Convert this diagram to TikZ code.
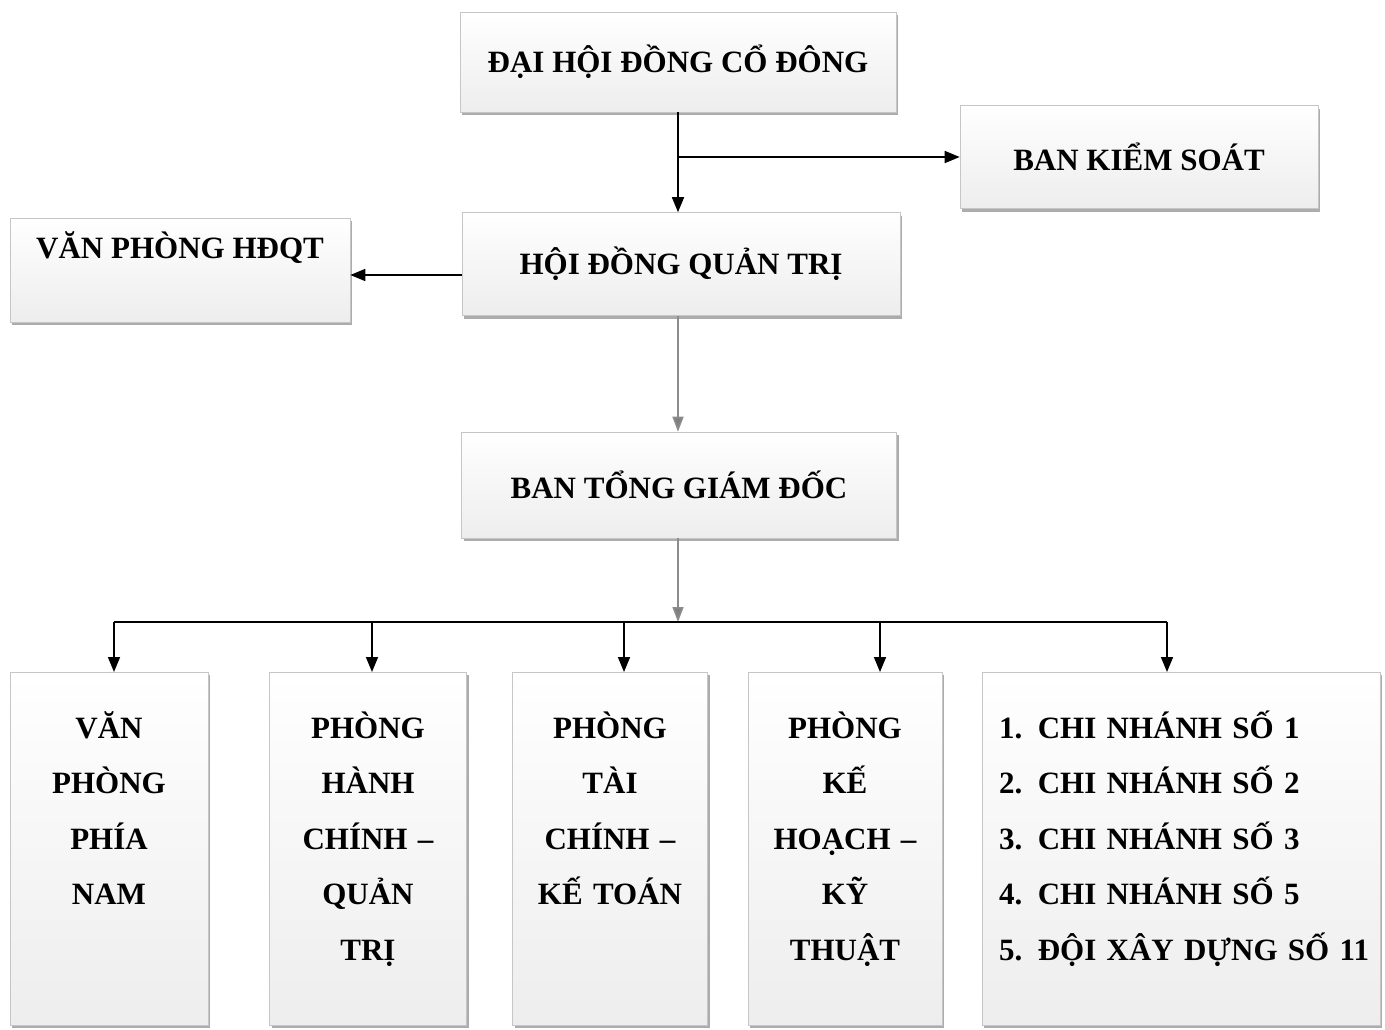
\documentclass[tikz,border=0pt]{standalone}
\usepackage{fontspec}
\setmainfont{Liberation Serif}
\usetikzlibrary{arrows.meta,shadows}
\begin{document}
\begin{tikzpicture}[x=1pt,y=-1pt,line join=round,
  font=\bfseries\fontsize{31}{55.5}\selectfont,
  box/.style={draw=gray!45,line width=.6pt,top color=white,bottom color=gray!14,
    general shadow={fill=gray!65,shadow xshift=2pt,shadow yshift=-3pt},
    inner sep=0pt},
  topbox/.style={box,anchor=north,align=center,text height=40pt,text depth=64pt},
  lowbox/.style={box,anchor=north,align=center,text height=66pt,text depth=287pt},
  arrow/.style={line width=1.6pt,-{Triangle[length=15pt,width=12pt]}},
  garrow/.style={arrow,draw=gray!90,-{Triangle[length=15pt,width=11pt,fill=gray]}}]
\useasboundingbox (0,0) rectangle (1385,1029);
% cap tren
\node[box,minimum width=436,minimum height=100] (dhdcd) at (678,62) {ĐẠI HỘI ĐỒNG CỔ ĐÔNG};
\node[box,minimum width=358,minimum height=103] (bks) at (1139,157) {BAN KIỂM SOÁT};
\node[topbox,minimum width=340] (vphdqt) at (180,218) {VĂN PHÒNG HĐQT};
\node[box,minimum width=438,minimum height=103] (hdqt) at (681,264) {HỘI ĐỒNG QUẢN TRỊ};
\node[box,minimum width=435,minimum height=106] (btgd) at (679,485) {BAN TỔNG GIÁM ĐỐC};
% cac phong ban
\node[lowbox,minimum width=198,text width=190] (vpnam) at (109,672) {VĂN\\PHÒNG\\PHÍA\\NAM};
\node[lowbox,minimum width=197,text width=189] (hcqt) at (368,672) {PHÒNG\\HÀNH\\CHÍNH –\\QUẢN\\TRỊ};
\node[lowbox,minimum width=195,text width=187] (tckt) at (610,672) {PHÒNG\\TÀI\\CHÍNH –\\KẾ TOÁN};
\node[lowbox,minimum width=194,text width=186] (khkt) at (845,672) {PHÒNG\\KẾ\\HOẠCH –\\KỸ\\THUẬT};
\node[lowbox,align=left,minimum width=398,text width=364] (cn) at (1181,672)
  {1.\enspace CHI NHÁNH SỐ~1\\2.\enspace CHI NHÁNH SỐ~2\\3.\enspace CHI NHÁNH SỐ~3\\4.\enspace CHI NHÁNH SỐ~5\\5.\enspace\mbox{ĐỘI XÂY DỰNG SỐ 11}};
\coordinate (bar) at (678,622);
% mui ten
\draw[arrow] (dhdcd) -- (dhdcd.south |- hdqt.north);
\draw[arrow] (dhdcd.south |- bks.west) -- (bks.west);
\draw[arrow] ([yshift=-11pt]hdqt.west) -- ([yshift=-11pt]hdqt.west -| vphdqt.east);
\draw[garrow] (dhdcd.south |- hdqt.south) -- (dhdcd.south |- btgd.north);
\draw[garrow] (dhdcd.south |- btgd.south) -- (bar);
\draw[line width=1.6pt] ([xshift=5pt]vpnam.north |- bar) -- ([xshift=-14pt]cn.north |- bar);
\foreach \n/\dx in {vpnam/5,hcqt/4,tckt/14,khkt/35,cn/-14}
  \draw[arrow] ([xshift=\dx pt]\n.north |- bar) -- ([xshift=\dx pt]\n.north);
\end{tikzpicture}
\end{document}
